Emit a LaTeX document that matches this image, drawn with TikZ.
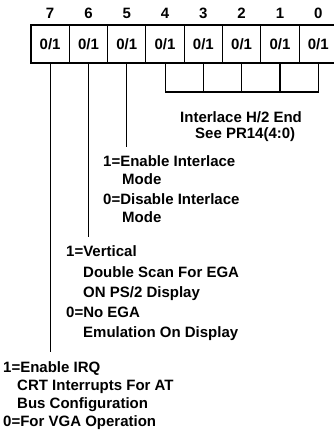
\documentclass[tikz,border=0pt]{standalone}
\usepackage{fontspec}
\setmainfont{Liberation Sans}
\usetikzlibrary{positioning}

\tikzset{
  cell/.style={draw,line width=1.1pt,minimum width=38.3pt,minimum height=38pt,inner sep=0pt},
  bitnum/.style={inner sep=0pt},
  txt/.style={anchor=base west,inner sep=0pt,align=left},
  wire/.style={line width=1.1pt}
}

\begin{document}
\begin{tikzpicture}[x=1pt,y=-1pt,font=\bfseries\fontsize{15}{18}\selectfont]
\useasboundingbox (0,0) rectangle (334,434);
\node[bitnum] (b7) at (50.15,13) {7};
\node[bitnum] (b6) at (88.45,13) {6};
\node[bitnum] (b5) at (126.75,13) {5};
\node[bitnum] (b4) at (165.05,13) {4};
\node[bitnum] (b3) at (203.35,13) {3};
\node[bitnum] (b2) at (241.65,13) {2};
\node[bitnum] (b1) at (279.95,13) {1};
\node[bitnum] (b0) at (318.25,13) {0};
\node[cell] (c7) at (50.15,44) {0/1};
\node[cell] (c6) at (88.45,44) {0/1};
\node[cell] (c5) at (126.75,44) {0/1};
\node[cell] (c4) at (165.05,44) {0/1};
\node[cell] (c3) at (203.35,44) {0/1};
\node[cell] (c2) at (241.65,44) {0/1};
\node[cell] (c1) at (279.95,44) {0/1};
\node[cell] (c0) at (318.25,44) {0/1};
\coordinate (k4) at (165.05,92);
\coordinate (k0) at (318.25,92);
\draw[wire] (c4.south)--(k4)--(k0)--(c0.south);
\draw[wire] (c3.south)--(c3.south |- k4);
\draw[wire] (c2.south)--(c2.south |- k4);
\draw[wire] (c1.south)--(c1.south |- k4);
\node[txt] (pr14) at (180,138.5) {Interlace H/2 End\\[-1.5pt]\hspace*{15pt}See PR14(4:0)};
\coordinate (e5) at (126.75,147);
\coordinate (e6) at (88.45,237);
\coordinate (e7) at (50.15,352);
\draw[wire] (c5.south)--(e5);
\draw[wire] (c6.south)--(e6);
\draw[wire] (c7.south)--(e7);
\node[txt] (il1) at (103,184.5) {1=Enable Interlace\\\hspace*{19pt}Mode};
\node[txt] (il0) at (103,222.5) {0=Disable Interlace\\\hspace*{19pt}Mode};
\node[txt] (ega1) at (66,297.5) {1=Vertical\\[2.5pt]\hspace*{17pt}Double Scan For EGA\\[2.5pt]\hspace*{17pt}ON PS/2 Display};
\node[txt] (ega0) at (66,337.5) {0=No EGA\\[2pt]\hspace*{17pt}Emulation On Display};
\node[txt] (irq1) at (3,408.5) {1=Enable IRQ\\\hspace*{14pt}CRT Interrupts For AT\\\hspace*{14pt}Bus Configuration};
\node[txt] (irq0) at (3,426.5) {0=For VGA Operation};
\end{tikzpicture}
\end{document}
